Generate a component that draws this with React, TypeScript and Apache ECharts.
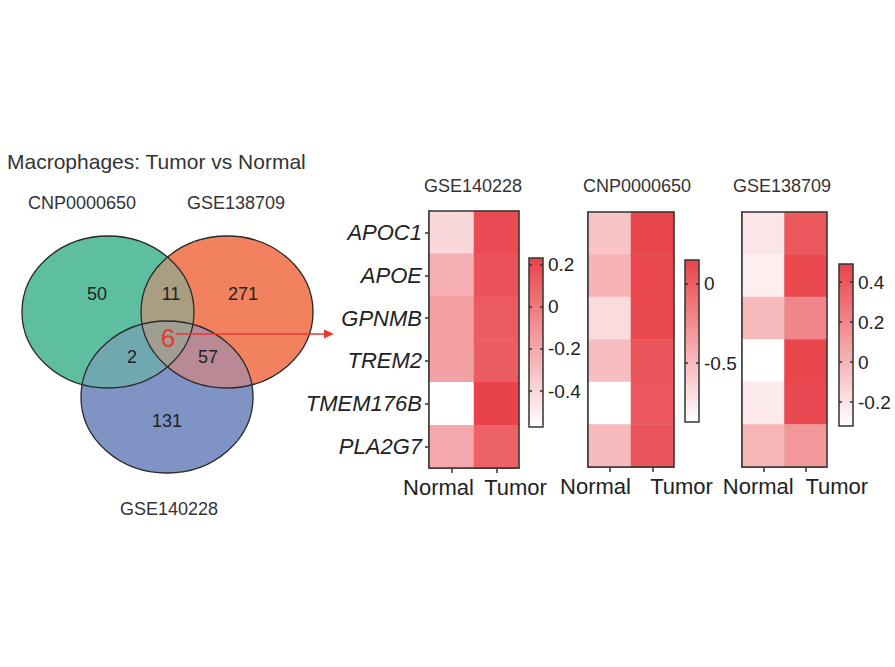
import React, { useEffect, useRef } from "react";
import * as echarts from "echarts";

// ---------- Data ----------
const genes = ["APOC1", "APOE", "GPNMB", "TREM2", "TMEM176B", "PLA2G7"];
const groups = ["Normal", "Tumor"];

const gse140228Normal = [-0.4, -0.23, -0.16, -0.17, -0.57, -0.2];
const gse140228Tumor = [0.19, 0.16, 0.13, 0.12, 0.23, 0.1];
const cnp0000650Normal = [-0.55, -0.46, -0.68, -0.52, -0.87, -0.49];
const cnp0000650Tumor = [0.14, 0.12, 0.12, 0.05, 0.04, 0.05];
const gse138709Normal = [-0.21, -0.25, -0.02, -0.32, -0.23, 0.0];
const gse138709Tumor = [0.4, 0.47, 0.2, 0.48, 0.46, 0.13];

const heatmapTitles = ["GSE140228", "CNP0000650", "GSE138709"];
const colorRanges = [
  [-0.57, 0.23],
  [-0.87, 0.15],
  [-0.32, 0.49],
];
const cbTicks1 = [0.2, 0, -0.2, -0.4];
const cbTicks2 = [0, -0.5];
const cbTicks3 = [0.4, 0.2, 0, -0.2];

const vennSetNames = ["CNP0000650", "GSE138709", "GSE140228"];
// regions: A only, B only, C only, AB, AC, BC, ABC
const vennCounts = [50, 271, 131, 11, 2, 57, 6];
const chartTitle = "Macrophages: Tumor vs Normal";

// ---------- Layout / styles ----------
const FONT = "'Liberation Sans', Arial, Helvetica, sans-serif";
const MAXC = "#e8434a";
const TXT = "#222";
const hmGrids = [
  { left: 429, top: 211, width: 90, height: 257 },
  { left: 588, top: 212, width: 86, height: 255 },
  { left: 742, top: 212, width: 85, height: 255 },
];
const cbGrids = [
  { left: 529, top: 258, width: 14, height: 169 },
  { left: 685, top: 260, width: 14, height: 162 },
  { left: 839, top: 264, width: 14, height: 162 },
];
const titlePos = [
  [473, 186],
  [637, 186],
  [782, 186],
];
// label shifts [normal pad right, tumor pad left]
const labelPads = [
  [26, 38],
  [28, 58],
  [10, 62],
];

// ---------- Venn geometry ----------
const S = 86 / 76;
const R = 76;
const circ = [
  { X: 108 / S, Y: 312 },
  { X: 227 / S, Y: 312 },
  { X: 167 / S, Y: 397 },
];
const vennFill = ["#5dbf9f", "#f2825f", "#7f93c4", "#aa9e82", "#6fa8ae", "#b98a95", "#a09e90"];

function inside(i: number, p: number[]) {
  const c = circ[i];
  return (p[0] - c.X) ** 2 + (p[1] - c.Y) ** 2 < R * R - 1e-6;
}
function inter(i: number, j: number) {
  const a = circ[i], b = circ[j];
  const dx = b.X - a.X, dy = b.Y - a.Y;
  const d = Math.hypot(dx, dy);
  const mx = (a.X + b.X) / 2, my = (a.Y + b.Y) / 2;
  const h = Math.sqrt(R * R - (d / 2) ** 2);
  const ux = -dy / d, uy = dx / d;
  const p = [mx + h * ux, my + h * uy];
  const q = [mx - h * ux, my - h * uy];
  const k = 3 - i - j;
  return inside(k, p) ? { I: p, O: q } : { I: q, O: p };
}
function arc(ci: number, P: number[], Q: number[], memb: number[]) {
  const c = circ[ci];
  const a1 = Math.atan2(P[1] - c.Y, P[0] - c.X);
  const a2 = Math.atan2(Q[1] - c.Y, Q[0] - c.X);
  let d = a2 - a1;
  while (d <= 0) d += Math.PI * 2;
  while (d > Math.PI * 2) d -= Math.PI * 2;
  const am = a1 + d / 2;
  const mid = [c.X + R * Math.cos(am), c.Y + R * Math.sin(am)];
  let ok = true;
  for (let j = 0; j < 3; j++) {
    if (j === ci) continue;
    if (inside(j, mid) !== (memb[j] === 1)) ok = false;
  }
  if (!ok) d = d - Math.PI * 2;
  const n = 60;
  const out: number[][] = [];
  for (let s = 0; s < n; s++) {
    const a = a1 + (d * s) / n;
    out.push([(c.X + R * Math.cos(a)) * S, c.Y + R * Math.sin(a)]);
  }
  return out;
}
function vennRegions() {
  const AB = inter(0, 1), AC = inter(0, 2), BC = inter(1, 2);
  const defs = [
    { m: [1, 0, 0], v: [AB.O, AC.O, BC.I], c: [0, 2, 1] },
    { m: [0, 1, 0], v: [AB.O, BC.O, AC.I], c: [1, 2, 0] },
    { m: [0, 0, 1], v: [AC.O, BC.O, AB.I], c: [2, 1, 0] },
    { m: [1, 1, 0], v: [AB.O, BC.I, AC.I], c: [1, 2, 0] },
    { m: [1, 0, 1], v: [AC.O, AB.I, BC.I], c: [0, 1, 2] },
    { m: [0, 1, 1], v: [BC.O, AB.I, AC.I], c: [1, 0, 2] },
    { m: [1, 1, 1], v: [AB.I, BC.I, AC.I], c: [1, 2, 0] },
  ];
  return defs.map((df) => {
    let pts: number[][] = [];
    for (let k = 0; k < 3; k++) {
      pts = pts.concat(arc(df.c[k], df.v[k], df.v[(k + 1) % 3], df.m));
    }
    return pts;
  });
}

function txt(text: string, x: number, y: number, size: number, extra: any = {}) {
  return {
    type: "text",
    x,
    y,
    z: 120,
    style: {
      text,
      fontSize: size,
      fontFamily: FONT,
      fill: TXT,
      align: "center",
      verticalAlign: "middle",
      ...extra,
    },
  };
}

function buildOption() {
  const hmData = [
    [gse140228Normal, gse140228Tumor],
    [cnp0000650Normal, cnp0000650Tumor],
    [gse138709Normal, gse138709Tumor],
  ];
  const grid: any[] = [];
  const xAxis: any[] = [];
  const yAxis: any[] = [];
  const series: any[] = [];
  const visualMap: any[] = [];
  const graphic: any[] = [];

  hmGrids.forEach((g, i) => {
    grid.push({ ...g, containLabel: false });
    const pads = labelPads[i];
    xAxis.push({
      type: "category",
      gridIndex: i,
      data: groups,
      position: "bottom",
      axisLine: { show: true, lineStyle: { color: "#333", width: 1.5 } },
      axisTick: { show: true, alignWithLabel: true, length: 5, lineStyle: { color: "#333", width: 1.5 } },
      axisLabel: {
        interval: 0,
        hideOverlap: false,
        margin: 8,
        formatter: (v: string) => (v === "Normal" ? "{n|" + v + "}" : "{t|" + v + "}"),
        rich: {
          n: { fontSize: 22, fontFamily: FONT, color: TXT, padding: [0, pads[0], 0, 0] },
          t: { fontSize: 22, fontFamily: FONT, color: TXT, padding: [0, 0, 0, pads[1]] },
        },
      },
      splitLine: { show: false },
    });
    yAxis.push({
      type: "category",
      gridIndex: i,
      data: genes,
      inverse: true,
      axisLine: { show: true, lineStyle: { color: "#333", width: 1.5 } },
      axisTick: { show: i === 0, alignWithLabel: true, length: 4, lineStyle: { color: "#333", width: 1.5 } },
      axisLabel: {
        show: i === 0,
        interval: 0,
        fontSize: 22,
        fontStyle: "italic",
        fontFamily: FONT,
        color: TXT,
        margin: 7,
      },
      splitLine: { show: false },
    });
    const data: number[][] = [];
    hmData[i].forEach((col, xi) => col.forEach((v, yi) => data.push([xi, yi, v])));
    series.push({
      type: "heatmap",
      xAxisIndex: i,
      yAxisIndex: i,
      data,
      itemStyle: { borderWidth: 0 },
      emphasis: { disabled: true },
    });
    visualMap.push({
      type: "continuous",
      show: false,
      seriesIndex: i,
      dimension: 2,
      min: colorRanges[i][0],
      max: colorRanges[i][1],
      inRange: { color: ["#ffffff", MAXC] },
    });
    graphic.push({
      type: "rect",
      z: 110,
      shape: { x: g.left, y: g.top, width: g.width, height: g.height },
      style: { fill: "none", stroke: "#333", lineWidth: 1.5 },
    });
    graphic.push(txt(heatmapTitles[i], titlePos[i][0], titlePos[i][1], 18, { fill: "#333" }));
  });

  const cbTicks = [cbTicks1, cbTicks2, cbTicks3];
  cbGrids.forEach((g, i) => {
    const gi = grid.length;
    grid.push({
      ...g,
      show: true,
      borderColor: "#333",
      borderWidth: 1.5,
      backgroundColor: new echarts.graphic.LinearGradient(0, 0, 0, 1, [
        { offset: 0, color: MAXC },
        { offset: 1, color: "#ffffff" },
      ]),
    });
    xAxis.push({ type: "category", gridIndex: gi, data: [""], show: false });
    yAxis.push({
      type: "value",
      gridIndex: gi,
      position: "right",
      min: colorRanges[i][0],
      max: colorRanges[i][1],
      axisLine: { show: false },
      splitLine: { show: false },
      axisTick: { show: true, inside: true, length: 3, customValues: cbTicks[i], lineStyle: { color: "#333", width: 1.5 } },
      axisLabel: { fontSize: 19, fontFamily: FONT, color: TXT, margin: 5, customValues: cbTicks[i] },
    });
    yAxis.push({
      type: "value",
      gridIndex: gi,
      position: "left",
      min: colorRanges[i][0],
      max: colorRanges[i][1],
      axisLine: { show: false },
      splitLine: { show: false },
      axisTick: { show: true, inside: true, length: 3, customValues: cbTicks[i], lineStyle: { color: "#333", width: 1.5 } },
      axisLabel: { show: false },
    });
  });

  // Venn
  const regions = vennRegions();
  regions.forEach((pts, k) => {
    graphic.push({ type: "polygon", z: 100, shape: { points: pts }, style: { fill: vennFill[k], stroke: vennFill[k], lineWidth: 0.5 } });
  });
  circ.forEach((c) => {
    graphic.push({
      type: "ellipse",
      z: 105,
      shape: { cx: c.X * S, cy: c.Y, rx: R * S, ry: R },
      style: { fill: "none", stroke: "#2a2a2a", lineWidth: 1.3 },
    });
  });
  const countPos = [
    [97, 294],
    [243, 294],
    [167, 421],
    [171, 294],
    [132, 357],
    [208, 357],
  ];
  countPos.forEach((p, k) => graphic.push(txt(String(vennCounts[k]), p[0], p[1], 18)));
  graphic.push(txt(String(vennCounts[6]), 168, 338, 26, { fill: "#e53935" }));
  graphic.push({
    type: "line",
    z: 115,
    shape: { x1: 176, y1: 334, x2: 326, y2: 334 },
    style: { stroke: "#e53935", lineWidth: 1.5 },
  });
  graphic.push({
    type: "polygon",
    z: 115,
    shape: { points: [[334, 334], [324, 329.5], [324, 338.5]] },
    style: { fill: "#e53935" },
  });
  graphic.push(txt(vennSetNames[0], 82, 203, 18, { fill: "#333" }));
  graphic.push(txt(vennSetNames[1], 236, 203, 18, { fill: "#333" }));
  graphic.push(txt(vennSetNames[2], 169, 509, 18, { fill: "#333" }));
  graphic.push(txt(chartTitle, 7, 161, 21, { align: "left", fill: "#333" }));

  return {
    animation: false,
    backgroundColor: "#ffffff",
    grid,
    xAxis,
    yAxis,
    visualMap,
    series,
    graphic: { elements: graphic },
  };
}

export default function App() {
  const ref = useRef<HTMLDivElement>(null);
  useEffect(() => {
    if (!ref.current) return;
    const chart = echarts.init(ref.current, undefined, { renderer: "svg" });
    chart.setOption(buildOption() as any);
    return () => chart.dispose();
  }, []);
  return (
    <div
      ref={ref}
      style={{ position: "absolute", left: 0, top: 0, width: 895, height: 667 }}
    />
  );
}
